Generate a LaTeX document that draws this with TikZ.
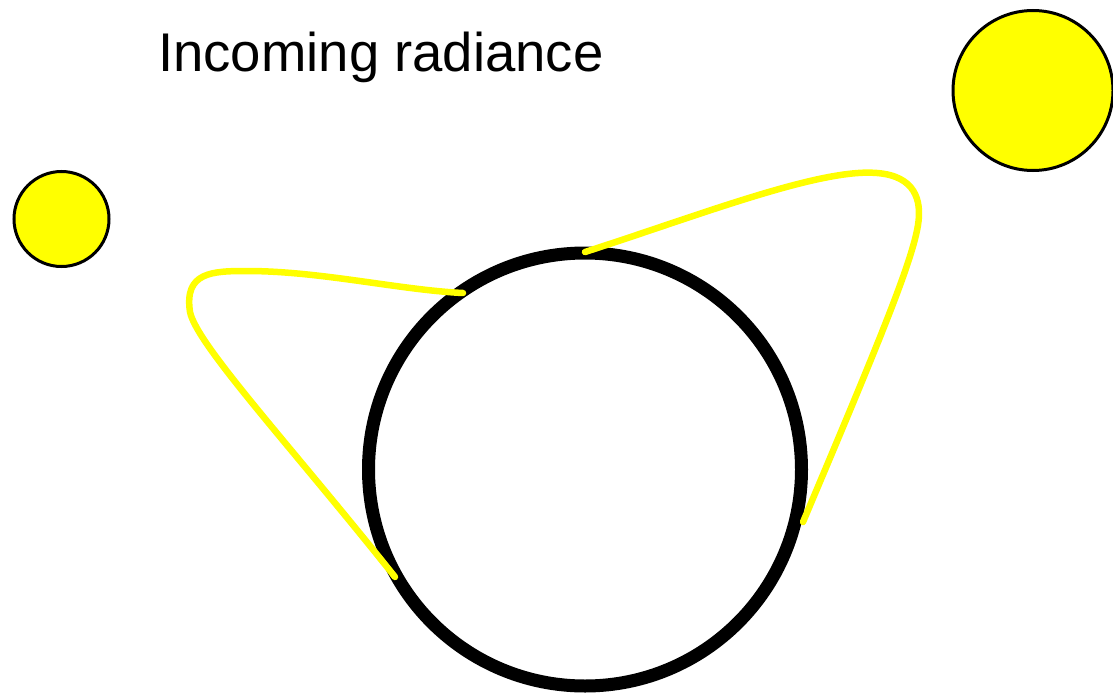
\documentclass[tikz,border=0pt]{standalone}
\usepackage{fontspec}
\setmainfont{Liberation Sans}
\usetikzlibrary{positioning}
\definecolor{sunyellow}{RGB}{255,255,0}

\begin{document}
\begin{tikzpicture}[
    x=1pt, y=-1pt,
    sun/.style={circle, draw=black, fill=sunyellow, line width=3pt, inner sep=0pt},
    sphere/.style={circle, draw=black, line width=13pt, inner sep=0pt, minimum size=433pt},
    ray/.style={draw=sunyellow, line width=6.5pt, line cap=round}
]
    \useasboundingbox (0,0) rectangle (1113,693);

    % Title
    \node[anchor=base west, inner sep=0pt, font=\fontsize{54.5}{60}\selectfont] (title) at (158,71) {Incoming radiance};

    % Light sources
    \node[sun, minimum size=95pt] (sunsmall) at (61.5,219) {};
    \node[sun, minimum size=160pt] (sunbig) at (1033,90.5) {};

    % Object
    \node[sphere] (ball) at (585,469.5) {};

    % Radiance lobes
    \coordinate (lobeAin) at (395,577);
    \coordinate (lobeAout) at (463,293);
    \coordinate (lobeBin) at (585,252);
    \coordinate (lobeBout) at (803,522);

    \draw[ray] (lobeAin) .. controls (290,445) and (197,345) .. (190,312)
        .. controls (184,272) and (212,271) .. (247,271)
        .. controls (320,271) and (400,290) .. (lobeAout);
    \draw[ray] (lobeBin) .. controls (700,215) and (820,168) .. (877,173)
        .. controls (915,176) and (922,200) .. (918,225)
        .. controls (912,262) and (880,340) .. (lobeBout);
\end{tikzpicture}
\end{document}
